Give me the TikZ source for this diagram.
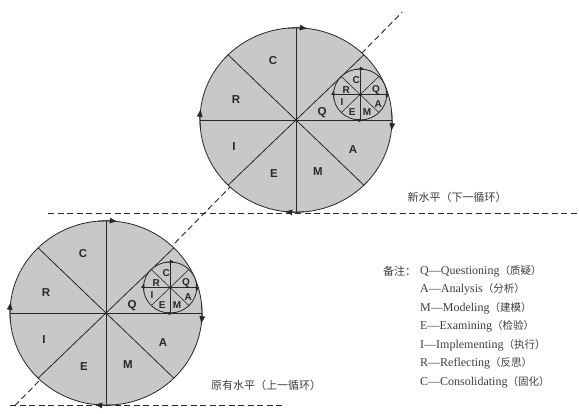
\documentclass[tikz,border=0pt]{standalone}
\usepackage{fontspec}
\setmainfont{Liberation Serif}
\setsansfont{Liberation Sans}
\newfontfamily\cjk{Noto Sans CJK SC}
\usetikzlibrary{arrows.meta, calc}
\definecolor{WheelGray}{RGB}{200,200,200}
\definecolor{InkGray}{RGB}{40,40,40}

\tikzset{
  wheel/.style={draw=InkGray, fill=WheelGray, line width=0.8pt},
  spoke/.style={draw=InkGray, line width=0.8pt},
  level/.style={draw=InkGray, dash pattern=on 6pt off 3.5pt, line width=0.9pt},
  flow/.style={draw=InkGray, line width=0.8pt, -{Latex[length=8pt,width=6pt]}},
  smallflow/.style={draw=InkGray, line width=0.6pt, -{Latex[length=5pt,width=4pt]}},
  bigletter/.style={font=\sffamily\bfseries\fontsize{11.5}{11.5}\selectfont, text=InkGray, inner sep=0pt},
  smallletter/.style={font=\sffamily\bfseries\fontsize{10}{10}\selectfont, text=InkGray, inner sep=0pt},
  levelnote/.style={font=\cjk\fontsize{11}{11}\selectfont, text=InkGray!90, inner sep=0pt},
  note/.style={font=\fontsize{12}{12}\selectfont, text=InkGray!90, anchor=west, inner sep=0pt},
}

\begin{document}
\begin{tikzpicture}[x=1pt, y=1pt]
\useasboundingbox (0,0) rectangle (579,413);

\coordinate (lowc) at (106,100);
\coordinate (upc) at (296,293);

% levels and the path between them
\coordinate (lowstart) at (10,8);
\coordinate (lowend) at (282,8);
\coordinate (upstart) at (48,200);
\coordinate (upend) at (579,200);
\coordinate (diagstart) at ($(lowc)!-0.48!(upc)$);
\coordinate (diagend) at ($(lowc)!1.56!(upc)$);
\draw[level] (lowstart) -- (lowend);
\draw[level] (upstart) -- (upend);
\draw[level] (diagstart) -- (diagend);

% the two wheels
\foreach \nm/\c in {low/lowc, up/upc} {
  \begin{scope}[shift={(\c)}, yscale=0.96]
    \path[wheel] (0,0) circle[radius=96];
    \foreach \a in {0,45,90,135}
      \draw[spoke] (\a:96) -- (\a+180:96);
    \foreach \a in {95,5,275,185}
      \draw[flow] (\a:96) arc[start angle=\a, end angle=\a-12, radius=96];
    \foreach \l/\dx/\dy in {C/-23/62, R/-60/21, I/-62/-28, E/-22/-56, M/22/-54, A/57/-31, Q/26/8}
      \node[bigletter] (\nm-\l) at (\dx,\dy) {\l};
    % small wheel in the Q sector
    \begin{scope}[shift={(22.5:69.4)}]
      \path[wheel] (0,0) circle[radius=26.6];
      \foreach \a in {0,45,90,135}
        \draw[spoke, line width=0.6pt] (\a:26.6) -- (\a+180:26.6);
      \foreach \a in {100,10,280,190}
        \draw[smallflow] (\a:26.6) arc[start angle=\a, end angle=\a-20, radius=26.6];
      \foreach \l/\dx/\dy in {C/-4/15, R/-14/5, I/-18/-8, E/-8/-18, M/7/-18, A/18/-10, Q/16/5}
        \node[smallletter] (\nm-s\l) at (\dx,\dy) {\l};
    \end{scope}
  \end{scope}
}

\node[levelnote] (newlevel) at (457,216) {新水平（下一循环）};
\node[levelnote] (oldlevel) at (266,28) {原有水平（上一循环）};

% legend
\node[note, font=\cjk\fontsize{11}{11}\selectfont] (notehead) at (383,142) {备注：};
\foreach \k/\txt/\zh [count=\i from 0] in {Q/Questioning/质疑, A/Analysis/分析,
    M/Modeling/建模, E/Examining/检验, I/Implementing/执行,
    R/Reflecting/反思, C/Consolidating/固化}
  \node[note] (note\k) at (420,142-18.5*\i) {\k—\txt{\cjk\fontsize{10.5}{10.5}\selectfont（\zh）}};
\end{tikzpicture}
\end{document}
